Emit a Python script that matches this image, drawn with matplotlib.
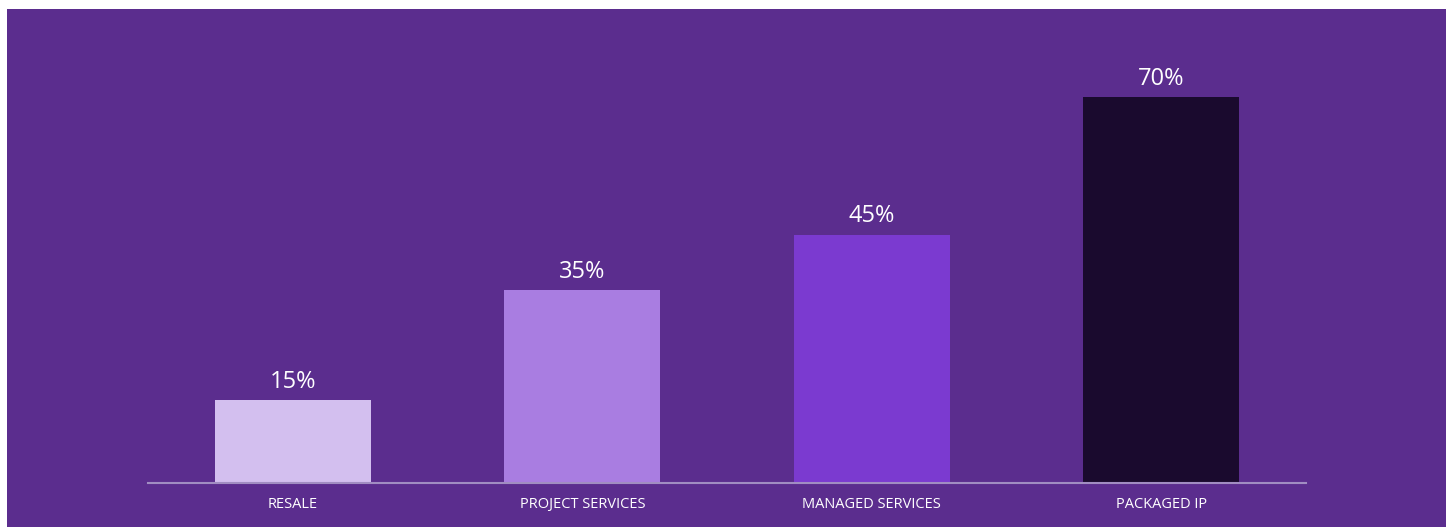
import matplotlib
matplotlib.use("Agg")
import matplotlib.pyplot as plt
from matplotlib.patches import Rectangle

categories = ["RESALE", "PROJECT SERVICES", "MANAGED SERVICES", "PACKAGED IP"]
values = [15, 35, 45, 70]
bar_colors = ["#D3BFEF", "#A97DE1", "#7B3AD0", "#1A0A2E"]

BG = "#5B2D8E"
W, H = 1450, 527
fig = plt.figure(figsize=(W / 100, H / 100), dpi=100, facecolor="white")

# purple panel behind the chart
fig.patches.append(Rectangle((7 / W, 0), (1446 - 7) / W, (H - 9) / H,
                             transform=fig.transFigure, facecolor=BG,
                             edgecolor="none", zorder=-10))

ax_left, ax_right = 148 / W, 1306 / W
ax_bottom = (H - 483) / H
ax_top = (H - 41.6) / H
ax = fig.add_axes([ax_left, ax_bottom, ax_right - ax_left, ax_top - ax_bottom])
ax.set_facecolor("none")
ax.set_zorder(5)

x = range(len(categories))
bars = ax.bar(x, values, width=0.54, color=bar_colors, zorder=2)
ax.set_xlim(-0.5, len(categories) - 0.5)
ax.set_ylim(0, 80)

for rect, v in zip(bars, values):
    ax.annotate(f"{v}%", (rect.get_x() + rect.get_width() / 2, v),
                xytext=(0, 4.5), textcoords="offset points",
                ha="center", va="bottom", color="white",
                fontsize=17, family="Open Sans")

ax.set_xticks(list(x))
ax.set_xticklabels(categories, color="white", fontsize=10.5, family="Open Sans")
ax.tick_params(axis="x", length=0, pad=10)
ax.set_yticks([])
for s in ["top", "right", "left"]:
    ax.spines[s].set_visible(False)
ax.spines["bottom"].set_color("#A18DC2")
ax.spines["bottom"].set_linewidth(1.5)
ax.spines["bottom"].set_zorder(3)

fig.savefig("out.png", dpi=100, facecolor="white")
